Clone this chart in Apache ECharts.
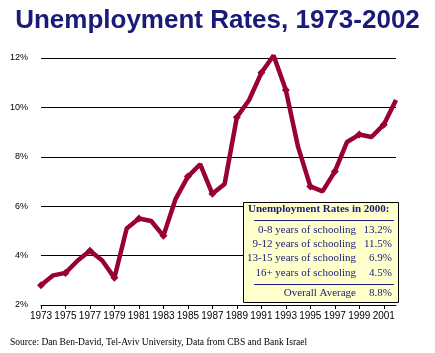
<!DOCTYPE html>
<html>
<head>
<meta charset="utf-8">
<script src="https://cdn.jsdelivr.net/npm/echarts@6/dist/echarts.min.js"></script>
<style>
  html, body { margin: 0; padding: 0; background: #fff; }
  #chart { width: 435px; height: 353px; }
</style>
</head>
<body>
<div id="chart"></div>
<script>
// years and rates (%)
var years = ['1973','1974','1975','1976','1977','1978','1979','1980','1981','1982',
             '1983','1984','1985','1986','1987','1988','1989','1990','1991','1992',
             '1993','1994','1995','1996','1997','1998','1999','2000','2001','2002'];
var rates = [2.8, 3.2, 3.3, 3.8, 4.2, 3.8, 3.1, 5.1, 5.5, 5.4,
             4.8, 6.3, 7.2, 7.7, 6.5, 6.9, 9.6, 10.3, 11.4, 12.1,
             10.7, 8.4, 6.8, 6.6, 7.4, 8.6, 8.9, 8.8, 9.3, 10.3];

// 2000 breakdown box
var boxLabels = ['0-8 years of schooling', '9-12 years of schooling', '13-15 years of schooling', '16+ years of schooling'];
var boxValues = ['13.2%', '11.5%', '6.9%', '4.5%'];
var avgLabel = 'Overall Average';
var avgValue = '8.8%';

var navy = '#1a1a78';
var serif = '"Liberation Serif", "DejaVu Serif", serif';

var chart = echarts.init(document.getElementById('chart'));

var box = [
  { type: 'rect', left: 243, top: 202, shape: { width: 155, height: 100 },
    style: { fill: '#ffffcc', stroke: '#000', lineWidth: 1 }, z: 10 },
  { type: 'text', left: 248, top: 204, z: 11,
    style: { text: 'Unemployment Rates in 2000:', fill: navy, font: 'bold 11px ' + serif } },
  { type: 'line', shape: { x1: 254, y1: 220.5, x2: 394, y2: 220.5 },
    style: { stroke: navy, lineWidth: 1 }, z: 11 },
  { type: 'line', shape: { x1: 254, y1: 284.5, x2: 394, y2: 284.5 },
    style: { stroke: navy, lineWidth: 1 }, z: 11 }
];
var rowY = [230, 244, 258, 273];
boxLabels.forEach(function (lab, i) {
  box.push({ type: 'text', x: 356, y: rowY[i], z: 11,
    style: { text: lab, fill: navy, font: '11px ' + serif, textAlign: 'right', textVerticalAlign: 'middle' } });
  box.push({ type: 'text', x: 392, y: rowY[i], z: 11,
    style: { text: boxValues[i], fill: navy, font: '11px ' + serif, textAlign: 'right', textVerticalAlign: 'middle' } });
});
box.push({ type: 'text', x: 356, y: 293, z: 11,
  style: { text: avgLabel, fill: navy, font: '11px ' + serif, textAlign: 'right', textVerticalAlign: 'middle' } });
box.push({ type: 'text', x: 392, y: 293, z: 11,
  style: { text: avgValue, fill: navy, font: '11px ' + serif, textAlign: 'right', textVerticalAlign: 'middle' } });
box.push({ type: 'text', left: 10, top: 337,
  style: { text: 'Source: Dan Ben-David, Tel-Aviv University, Data from CBS and Bank Israel', fill: '#000', font: '9.5px ' + serif } });

var option = {
  animation: false,
  backgroundColor: '#fff',
  title: {
    text: 'Unemployment Rates, 1973-2002',
    left: 'center',
    top: 3,
    textStyle: { color: navy, fontSize: 26, fontWeight: 'bold', fontFamily: '"Liberation Sans", Arial, sans-serif' }
  },
  grid: { left: 41, right: 39, top: 58, bottom: 48 },
  xAxis: {
    type: 'category',
    data: years,
    boundaryGap: false,
    axisLine: { lineStyle: { color: '#000', width: 1 } },
    axisTick: { interval: 1, length: 4, lineStyle: { color: '#000' } },
    axisLabel: { interval: 1, color: '#000', fontSize: 10, margin: 6, fontFamily: '"Liberation Sans", Arial, sans-serif' },
    splitLine: { show: false }
  },
  yAxis: {
    type: 'value',
    min: 2, max: 12, interval: 2,
    axisLine: { show: false },
    axisTick: { show: false },
    axisLabel: { formatter: '{value}%', color: '#000', fontSize: 9, margin: 13, fontFamily: '"Liberation Sans", Arial, sans-serif' },
    splitLine: { lineStyle: { color: '#000', width: 1 } }
  },
  series: [{
    type: 'line',
    data: rates,
    clip: false,
    symbol: 'diamond',
    symbolSize: 8,
    lineStyle: { color: '#990033', width: 4.5 },
    itemStyle: { color: '#990033' }
  }],
  graphic: box
};
chart.setOption(option);
</script>
</body>
</html>
